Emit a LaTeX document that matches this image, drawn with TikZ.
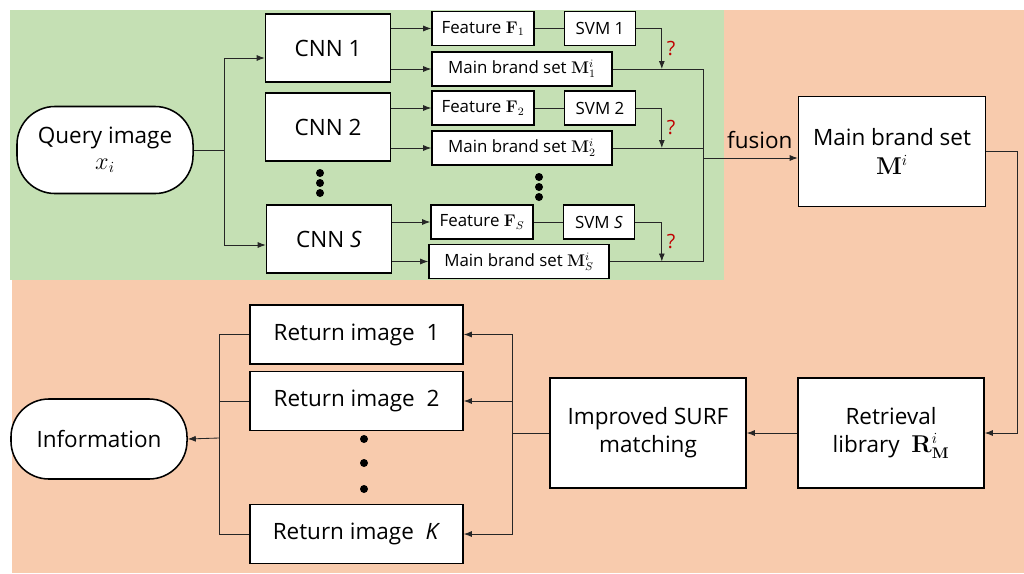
\documentclass[tikz,border=0pt]{standalone}
\usepackage[no-math]{fontspec}
\setmainfont{Open Sans}
\usetikzlibrary{arrows.meta,calc}
\definecolor{greenbg}{HTML}{C5E0B4}
\definecolor{orangebg}{HTML}{F8CBAD}
\definecolor{askred}{HTML}{C00000}

\begin{document}
\begin{tikzpicture}[
  x=0.025cm,
  y=-0.025cm,
  >=Latex,
  font=\fontsize{16}{20}\selectfont,
  line/.style={draw=black!85,line width=0.6pt},
  arrow/.style={line,-{Latex[length=2mm,width=1.5mm]}},
  block/.style={draw=black,line width=1.1pt,fill=white,align=center,inner sep=2pt},
  terminal/.style={block,rounded corners=0.95cm,minimum width=4.4cm},
  cnnbox/.style={block,minimum width=3.125cm,minimum height=1.7cm},
  smallblock/.style={block,font=\fontsize{12}{14}\selectfont,minimum height=0.85cm},
  featbox/.style={smallblock,minimum width=2.55cm},
  svmbox/.style={smallblock,minimum width=1.775cm},
  brandbox/.style={smallblock,minimum width=4.5cm},
  bigbox/.style={block,minimum height=2.75cm},
  retbox/.style={block,minimum width=5.325cm,minimum height=1.475cm},
  ask/.style={text=askred,font=\fontsize{14}{16}\selectfont}
]

% Backgrounds
\useasboundingbox (0,0) rectangle (1024,573);
\fill[orangebg] (12,10) rectangle (1024,573);
\fill[greenbg] (10,10) rectangle (724,280);

% Query and CNNs
\node[terminal,minimum height=2.175cm] (query) at (105,150) {Query image\\[-2pt]$x_i$};
\node[cnnbox] (cnn1) at (328,48) {CNN 1};
\node[cnnbox] (cnn2) at (328,127) {CNN 2};
\node[cnnbox] (cnns) at (329,239) {CNN \textit{S}};
\foreach \y in {173,183,193} \fill (320,\y) circle (0.1cm);

\coordinate (split) at (224,150);
\draw[line] (query.east) -- (split);
\draw[arrow] (split) |- ([yshift=-0.25cm]cnn1.west);
\draw[arrow] (split) |- ([yshift=-0.15cm]cnns.west);

% Features, SVMs and brand sets
\node[featbox] (feat1) at (483,28.5) {Feature $\mathbf{F}_1$};
\node[svmbox] (svm1) at (600,28.5) {SVM 1};
\node[brandbox] (brand1) at (522,69) {Main brand set $\mathbf{M}_1^i$};

\node[featbox] (feat2) at (483,108) {Feature $\mathbf{F}_2$};
\node[svmbox] (svm2) at (600,108) {SVM 2};
\node[brandbox] (brand2) at (522,148) {Main brand set $\mathbf{M}_2^i$};

\node[featbox] (feats) at (482,222) {Feature $\mathbf{F}_S$};
\node[svmbox] (svms) at (599,222) {SVM \textit{S}};
\node[brandbox] (brands) at (519,261.5) {Main brand set $\mathbf{M}_S^i$};
\foreach \y in {177,187,197} \fill (539,\y) circle (0.1cm);

\draw[arrow] (cnn1.east |- feat1.west) -- (feat1.west);
\draw[arrow] (cnn1.east |- brand1.west) -- (brand1.west);
\draw[arrow] (cnn2.east |- feat2.west) -- (feat2.west);
\draw[arrow] (cnn2.east |- brand2.west) -- (brand2.west);
\draw[arrow] (cnns.east |- feats.west) -- (feats.west);
\draw[arrow] (cnns.east |- brands.west) -- (brands.west);

\draw[line] (feat1) -- (svm1);
\draw[line] (feat2) -- (svm2);
\draw[line] (feats) -- (svms);

\draw[arrow] (svm1.east) -| ([xshift=1.225cm]brand1.east) node[pos=0.75,right,ask] {?};
\draw[arrow] (svm2.east) -| ([xshift=1.225cm]brand2.east) node[pos=0.75,right,ask] {?};
\draw[arrow] (svms.east) -| ([xshift=1.3cm]brands.east) node[pos=0.75,right,ask] {?};

% Fusion
\node[bigbox,minimum width=4.675cm] (fused) at (892,151.5) {Main brand set\\$\mathbf{M}^i$};
\coordinate (merge) at (703,158);
\draw[line] (brand1.east) -| (merge);
\draw[line] (brand2.east) -| (merge);
\draw[line] (brands.east) -| (merge);
\draw[arrow] (merge) -- (merge -| fused.west) node[pos=0.6,above=3pt] {fusion};

% Retrieval and matching
\node[bigbox,minimum width=4.65cm] (retrieval) at (891,433) {Retrieval\\library\ \ $\mathbf{R}_{\mathbf{M}}^i$};
\node[bigbox,minimum width=4.9cm] (surf) at (648,433) {Improved SURF\\matching};
\draw[arrow] (fused.east) -- ++(31,0) |- (retrieval.east);
\draw[arrow] (retrieval) -- (surf);

% Returned images
\node[retbox] (ret1) at (356.5,334.5) {Return image\ \ 1};
\node[retbox] (ret2) at (356.5,401) {Return image\ \ 2};
\node[retbox] (retk) at (356.5,534) {Return image\ \ \textit{K}};
\foreach \y in {439,463,489} \fill (364,\y) circle (0.1cm);

\draw[line] (surf.west) -- ++(-37,0) coordinate (rsplit);
\draw[arrow] (rsplit) |- (ret1.east);
\draw[arrow] (rsplit) |- (ret2.east);
\draw[arrow] (rsplit) |- (retk.east);

% Information
\node[terminal,minimum height=2cm] (info) at (99,439) {Information};
\coordinate (lsplit) at (219,438);
\draw[line] (ret1.west) -| (lsplit);
\draw[line] (ret2.west) -| (lsplit);
\draw[line] (retk.west) -| (lsplit);
\draw[arrow] (lsplit) -- (info.east);

\end{tikzpicture}
\end{document}
